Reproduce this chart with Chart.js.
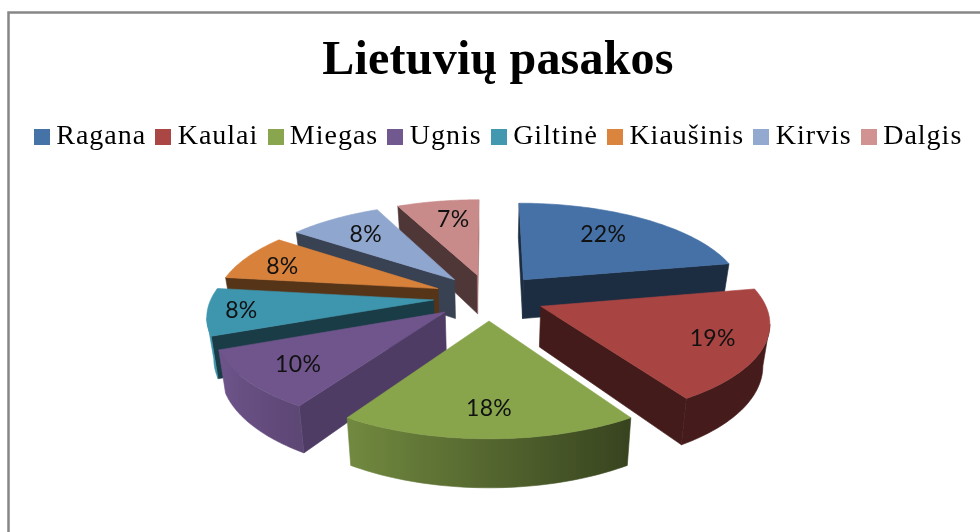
<!DOCTYPE html>
<html>
<head>
<meta charset="utf-8">
<style>html,body{margin:0;padding:0;background:#fff}canvas{display:block}</style>
<script src="https://cdn.jsdelivr.net/npm/chart.js@4"></script>
</head>
<body>
<canvas id="c" width="980" height="532"></canvas>
<script>
const chartTitle = 'Lietuvių pasakos';
const categories = ['Ragana', 'Kaulai', 'Miegas', 'Ugnis', 'Giltinė', 'Kiaušinis', 'Kirvis', 'Dalgis'];
const shares = [22, 19, 18, 10, 8, 8, 8, 7];
const faceColors = ['#4571a6', '#a84442', '#88a54c', '#6f558c', '#3e95ae', '#d8813a', '#8fa6cf', '#c98a8a'];
const legendColors = ['#4572a7', '#aa4643', '#89a54e', '#71588f', '#4198af', '#db843d', '#93a9cf', '#d19392'];
const labelNudgeX = [-14, 5, 0, 0, -21, -9, 5, 7];

// 3D view of the pie plane (unit radius)
const VIEW = {cx: 489, cy: 297, a: 222, b: 92.5, t: 0.1475, depth: 40, foot: 0.975, explode: 0.25, labelAt: 0.76};

function project(X, Y) {
  const w = 1 / (1 - VIEW.t * Y);
  return {x: VIEW.cx + VIEW.a * X * w, y: VIEW.cy + VIEW.b * Y * w, w};
}
function foot(p) {
  return {x: VIEW.cx + (p.x - VIEW.cx) * VIEW.foot, y: p.y + VIEW.depth * p.w};
}
function shade(hex, f) {
  const n = parseInt(hex.slice(1), 16);
  const c = [n >> 16, (n >> 8) & 255, n & 255].map(v => Math.round(Math.min(255, v * f)));
  return `rgb(${c[0]},${c[1]},${c[2]})`;
}
function quad(ctx, a, b, c, d, fill) {
  ctx.beginPath();
  ctx.moveTo(a.x, a.y); ctx.lineTo(b.x, b.y); ctx.lineTo(c.x, c.y); ctx.lineTo(d.x, d.y);
  ctx.closePath();
  ctx.fillStyle = fill; ctx.strokeStyle = fill; ctx.lineWidth = 0.6;
  ctx.fill(); ctx.stroke();
}
function drawSlice(ctx, arc, color) {
  const s = arc.startAngle, e = arc.endAngle, mid = (s + e) / 2;
  const ox = Math.cos(mid) * VIEW.explode, oy = Math.sin(mid) * VIEW.explode;
  const apex = project(ox, oy);
  const steps = 48, rim = [];
  for (let i = 0; i <= steps; i++) {
    const t = s + (e - s) * i / steps;
    rim.push({p: project(ox + Math.cos(t), oy + Math.sin(t)), nx: Math.cos(t)});
  }
  const wall = nx => 0.4 + Math.max(0, nx - 0.4) * 0.7;
  const first = rim[0].p, last = rim[steps].p;
  // only walls that face the viewer: the face outline runs clockwise, so its lower edges run right to left
  if (first.x < apex.x) quad(ctx, apex, first, foot(first), foot(apex), shade(color, wall(Math.sin(s))));
  if (apex.x < last.x) quad(ctx, apex, last, foot(last), foot(apex), shade(color, wall(-Math.sin(e))));
  // curved wall, lit from the left
  const run = rim.filter((r, i) => (i < steps && rim[i + 1].p.x < r.p.x) || (i > 0 && r.p.x < rim[i - 1].p.x));
  if (run.length > 1) {
    const x0 = run[0].p.x, x1 = run[run.length - 1].p.x;
    const g = ctx.createLinearGradient(x0, 0, x1, 0);
    run.forEach(r => {
      const f = Math.max(0.41, Math.min(1, 0.62 - 0.4 * r.nx));
      g.addColorStop((r.p.x - x0) / (x1 - x0), shade(color, f));
    });
    ctx.beginPath();
    run.forEach((r, i) => i ? ctx.lineTo(r.p.x, r.p.y) : ctx.moveTo(r.p.x, r.p.y));
    run.slice().reverse().forEach(r => { const q = foot(r.p); ctx.lineTo(q.x, q.y); });
    ctx.closePath();
    ctx.fillStyle = g; ctx.strokeStyle = g; ctx.lineWidth = 0.6;
    ctx.fill(); ctx.stroke();
  }
  // top face
  ctx.beginPath();
  ctx.moveTo(apex.x, apex.y);
  rim.forEach(r => ctx.lineTo(r.p.x, r.p.y));
  ctx.closePath();
  ctx.fillStyle = color; ctx.strokeStyle = color; ctx.lineWidth = 0.6;
  ctx.fill(); ctx.stroke();
}

const LEGEND_SPACING = '1px', TITLE_SPACING = '0.2px';
const TITLE_SHIFT = 8, LEGEND_SHIFT = 12;
function shiftBox(box, ctx, dx, spacing) {
  if (box._shifted) return;
  const d = box.draw;
  box.draw = function () {
    ctx.save(); ctx.letterSpacing = spacing; ctx.translate(dx, 0);
    d.call(this);
    ctx.restore();
  };
  box._shifted = true;
}
const pie3d = {
  id: 'pie3d',
  beforeUpdate(chart) { chart.ctx.letterSpacing = LEGEND_SPACING; },
  beforeDraw(chart) {
    const ctx = chart.ctx;
    ctx.save();
    ctx.strokeStyle = '#878787'; ctx.lineWidth = 2.5;
    ctx.beginPath(); ctx.moveTo(8.5, 532); ctx.lineTo(8.5, 12.5); ctx.lineTo(980, 12.5); ctx.stroke();
    ctx.restore();
    shiftBox(chart.titleBlock, ctx, TITLE_SHIFT, TITLE_SPACING);
    shiftBox(chart.legend, ctx, LEGEND_SHIFT, LEGEND_SPACING);
  },
  beforeDatasetsDraw(chart) {
    const ctx = chart.ctx, arcs = chart.getDatasetMeta(0).data;
    const order = arcs.map((a, i) => i).sort((i, j) =>
      Math.sin((arcs[i].startAngle + arcs[i].endAngle) / 2) - Math.sin((arcs[j].startAngle + arcs[j].endAngle) / 2));
    ctx.save();
    order.forEach(i => drawSlice(ctx, arcs[i], faceColors[i]));
    ctx.fillStyle = '#111';
    ctx.font = '23px Lato';
    ctx.letterSpacing = '0.3px';
    ctx.textAlign = 'center'; ctx.textBaseline = 'middle';
    const total = shares.reduce((p, v) => p + v, 0);
    arcs.forEach((arc, i) => {
      const mid = (arc.startAngle + arc.endAngle) / 2, r = VIEW.explode + VIEW.labelAt;
      const p = project(Math.cos(mid) * r, Math.sin(mid) * r);
      ctx.fillText(Math.round(shares[i] / total * 100) + '%', p.x + labelNudgeX[i], p.y + 2);
    });
    ctx.restore();
    return false;
  }
};

function swatch(color) {
  const c = document.createElement('canvas');
  c.width = 16; c.height = 16;
  const g = c.getContext('2d');
  g.fillStyle = color; g.fillRect(0, 0, 16, 16);
  return c;
}

new Chart(document.getElementById('c'), {
  type: 'pie',
  data: {labels: categories, datasets: [{data: shares, backgroundColor: faceColors, borderWidth: 0}]},
  options: {
    responsive: false,
    animation: false,
    plugins: {
      tooltip: {enabled: false},
      title: {
        display: true, text: chartTitle, color: '#000',
        font: {family: '"Liberation Serif"', size: 48, weight: 'bold'},
        padding: {top: 33, bottom: 15}
      },
      legend: {
        position: 'top',
        labels: {
          color: '#000',
          font: {family: '"Liberation Serif"', size: 28},
          usePointStyle: true,
          pointStyleWidth: 0.5,
          padding: 17,
          boxHeight: 16,
          generateLabels: chart => categories.map((name, i) => ({
            text: name, fillStyle: legendColors[i], strokeStyle: legendColors[i], lineWidth: 0,
            pointStyle: swatch(legendColors[i]), hidden: false, index: i
          }))
        }
      }
    }
  },
  plugins: [pie3d]
});
</script>
</body>
</html>
